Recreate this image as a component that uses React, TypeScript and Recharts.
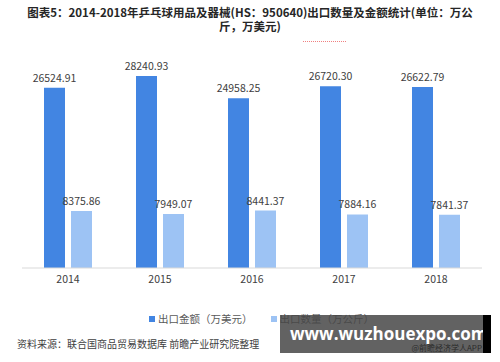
import React from 'react';
import { BarChart, Bar, XAxis, YAxis, LabelList, Legend } from 'recharts';

const years = ['2014', '2015', '2016', '2017', '2018'];
const exportValue = [26524.91, 28240.93, 24958.25, 26720.3, 26622.79];
const exportQty = [8375.86, 7949.07, 8441.37, 7884.16, 7841.37];
const valueLabels = ['26524.91', '28240.93', '24958.25', '26720.30', '26622.79'];
const qtyLabels = ['8375.86', '7949.07', '8441.37', '7884.16', '7841.37'];
const seriesNames = ['出口金额（万美元）', '出口数量（万公斤）'];
const seriesColors = ['#4285e2', '#9dc3f4'];

const data = years.map((y, i) => ({
  year: y,
  value: exportValue[i],
  qty: exportQty[i],
  valueLabel: valueLabels[i],
  qtyLabel: qtyLabels[i],
}));

const FONT = '"Noto Sans CJK SC", "Noto Sans", sans-serif';

const renderLegend = () => (
  <div style={{ display: 'flex', justifyContent: 'flex-start', paddingLeft: 149, fontSize: 10.5, fontFamily: FONT, color: '#595959' }}>
    {seriesNames.map((n, i) => (
      <div key={n} style={{ display: 'flex', alignItems: 'center', marginLeft: i ? 18 : 0 }}>
        <span style={{ display: 'inline-block', width: 6, height: 6, background: seriesColors[i], marginRight: 3 }} />
        <span>{n}</span>
      </div>
    ))}
  </div>
);

export default function App() {
  return (
    <div style={{ position: 'absolute', left: 0, top: 0, width: 500, height: 362, background: '#fff', overflow: 'hidden', fontFamily: FONT }}>
      <div style={{ position: 'absolute', left: 0, top: 5, width: 500, textAlign: 'center', fontSize: 11.5, fontWeight: 'bold', color: '#262626', lineHeight: '14px', whiteSpace: 'nowrap' }}>
        <div>图表5：2014-2018年乒乓球用品及器械(HS：950640)出口数量及金额统计(单位：万公</div>
        <div>斤，万美元)</div>
      </div>
      <div style={{ position: 'absolute', left: 303, top: 41, width: 43, borderTop: '1px dotted #f08080' }} />
      <div style={{ position: 'absolute', left: 0, top: 0 }}>
        <BarChart
          width={500}
          height={330}
          data={data}
          margin={{ top: 64, right: 18, left: 22, bottom: 27 }}
          barSize={21}
          barGap={6}
        >
          <XAxis
            dataKey="year"
            axisLine={{ stroke: '#d9d9d9' }}
            tickLine={false}
            height={20}
            tick={{ fontSize: 10.5, fill: '#404040', fontFamily: FONT }}
          />
          <YAxis hide domain={[0, 30000]} />
          <Legend
            verticalAlign="bottom"
            content={renderLegend}
            wrapperStyle={{ top: 311, left: 0, width: 500 }}
          />
          <Bar dataKey="value" name={seriesNames[0]} fill={seriesColors[0]} isAnimationActive={false}>
            <LabelList dataKey="valueLabel" position="top" offset={6} style={{ fontSize: 10.5, fill: '#404040', fontFamily: FONT }} />
          </Bar>
          <Bar dataKey="qty" name={seriesNames[1]} fill={seriesColors[1]} isAnimationActive={false}>
            <LabelList dataKey="qtyLabel" position="top" offset={6} style={{ fontSize: 10.5, fill: '#404040', fontFamily: FONT }} />
          </Bar>
        </BarChart>
      </div>
      <div style={{ position: 'absolute', left: 17, top: 336, fontSize: 10, color: '#404040', whiteSpace: 'nowrap' }}>
        资料来源：联合国商品贸易数据库 前瞻产业研究院整理
      </div>
      <div style={{ position: 'absolute', left: 280, top: 315, width: 211, height: 38, background: 'rgba(70,70,70,0.85)' }}>
        <div style={{ position: 'absolute', left: 10, top: 9, fontSize: 17, fontWeight: 'bold', color: '#fff', fontFamily: '"Open Sans", sans-serif', whiteSpace: 'nowrap', lineHeight: '20px' }}>
          www.wuzhouexpo.com
        </div>
        <div style={{ position: 'absolute', right: 9, top: 28, fontSize: 8, lineHeight: '10px', color: '#2a2a2a', whiteSpace: 'nowrap' }}>
          @前瞻经济学人APP
        </div>
        <div style={{ position: 'absolute', right: 0, top: 0, width: 8, height: 38, background: '#000' }} />
      </div>
    </div>
  );
}
